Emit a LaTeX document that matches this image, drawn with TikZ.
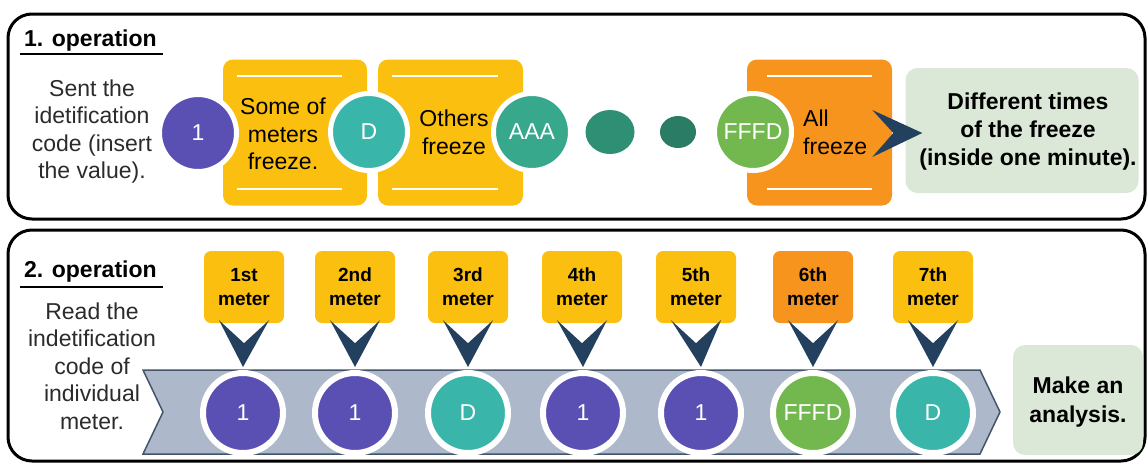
\documentclass[tikz,border=0pt]{standalone}
\usepackage{fontspec}
\setmainfont{Liberation Sans}
\usetikzlibrary{calc,shapes.geometric}
\definecolor{cpurple}{HTML}{5A50B4}
\definecolor{cteal}{HTML}{3AB5AA}
\definecolor{caaa}{HTML}{38A88C}
\definecolor{cdotA}{HTML}{2E8F74}
\definecolor{cdotB}{HTML}{2A7C64}
\definecolor{cgreen}{HTML}{72B84F}
\definecolor{cyellow}{HTML}{FBBF0F}
\definecolor{corange}{HTML}{F7941D}
\definecolor{cpale}{HTML}{DCE8D7}
\definecolor{cnavy}{HTML}{23405E}
\definecolor{cband}{HTML}{ADB9CA}
\definecolor{cbandline}{HTML}{44546A}
\definecolor{ctext}{HTML}{2B2B2B}
\begin{document}
\begin{tikzpicture}[x=1pt,y=-1pt,
  panel/.style={draw=black,line width=3pt,rounded corners=24pt},
  tilebox/.style={rounded corners=10pt,minimum height=146pt,inner sep=0pt},
  whiteline/.style={draw=white,line width=2pt},
  bubble/.style={circle,draw=white,line width=5pt,minimum size=77pt,inner sep=0pt,text=white,font=\fontsize{23}{27}\selectfont},
  mbubble/.style={circle,draw=white,line width=6pt,minimum size=80pt,inner sep=0pt,text=white,font=\fontsize{23}{27}\selectfont},
  dot/.style={ellipse,inner sep=0pt},
  plain/.style={text=ctext,align=center,inner sep=0pt,font=\fontsize{23}{27.6}\selectfont},
  boldtext/.style={text=black,align=center,inner sep=0pt,font=\bfseries\fontsize{23}{28}\selectfont},
  heading/.style={anchor=west,text=black,inner sep=0pt,font=\bfseries\fontsize{23}{27}\selectfont},
  meterbox/.style={rounded corners=7pt,minimum width=80pt,minimum height=72pt,inner sep=0pt,align=center,text=black,font=\bfseries\fontsize{19}{24}\selectfont},
  palebox/.style={fill=cpale,rounded corners=12pt,inner sep=0pt},
  chevron/.style={fill=cnavy}
]
\useasboundingbox (0,0) rectangle (1147,464);

% ---------------- Panel 1 ----------------
\draw[panel] (8,14) rectangle (1145,219);
\node[heading] (h1) at (24,41) {1. operation};
\draw[line width=1.5pt] (20,54) -- (163,54);
\node[plain] (t1) at (92,131.5) {Sent the\\idetification\\code (insert\\the value).};

\node[tilebox,fill=cyellow,minimum width=144pt] (b1) at (295,132.5) {};
\node[tilebox,fill=cyellow,minimum width=145pt] (b2) at (450.5,132.5) {};
\node[tilebox,fill=corange,minimum width=145pt] (b3) at (819.5,132.5) {};
\draw[whiteline] (237,76) -- (342,76);
\draw[whiteline] (237,189) -- (342,189);
\draw[whiteline] (392,76) -- (498,76);
\draw[whiteline] (392,189) -- (498,189);
\draw[whiteline] (767,76) -- (872,76);
\draw[whiteline] (767,189) -- (872,189);

\node[bubble,fill=cpurple] (c1) at (198,133) {1};
\node[bubble,fill=cteal] (c2) at (369,132) {D};
\node[bubble,fill=caaa] (c3) at (532,132) {AAA};
\node[dot,fill=cdotA,minimum width=49pt,minimum height=44pt] (c4) at (610,132) {};
\node[dot,fill=cdotB,minimum width=36pt,minimum height=32pt] (c5) at (678,132) {};
\node[bubble,fill=cgreen] (c6) at (753,132) {FFFD};

\node[plain,text=black] (l1) at (283,134) {Some of\\meters\\freeze.};
\node[plain,text=black] (l2) at (454,132.5) {Others\\freeze};
\node[plain,text=black,anchor=west,align=left] (l3) at (803,132.5) {All\\freeze};

\node[palebox,minimum width=233pt,minimum height=125pt] (g1) at (1022,130.5) {};
\node[boldtext] (g1t) at (1028,132) {Different times\\of the freeze\\(inside one minute).};

\coordinate (a1) at ($(g1.west)+(-12,2.5)$);
\fill[chevron] ($(a1)+(-21,-23)$) -- ($(a1)+(29,0)$) -- ($(a1)+(-21,24)$) -- (a1) -- cycle;

% ---------------- Panel 2 ----------------
\draw[panel] (8,230) rectangle (1145,461);
\node[heading] (h2) at (24,272) {2. operation};
\draw[line width=1.5pt] (20,287) -- (163,287);
\node[plain] (t2) at (92,366) {Read the\\indetification\\code of\\individual\\meter.};

\fill[cband] (143,370) -- (980,370) -- (1000,412) -- (980,454) -- (143,454) -- (163,412) -- cycle;
\draw[cbandline,line width=1.5pt,line join=miter] (143,370) -- (980,370) -- (1000,412) -- (980,454) -- (143,454) -- (163,412) -- cycle;

\node[mbubble,fill=cpurple] (n1) at (243,413) {1};
\node[mbubble,fill=cpurple] (n2) at (355,413) {1};
\node[mbubble,fill=cteal] (n3) at (468,413) {D};
\node[mbubble,fill=cpurple] (n4) at (583,413) {1};
\node[mbubble,fill=cpurple] (n5) at (701,413) {1};
\node[mbubble,fill=cgreen] (n6) at (813,413) {FFFD};
\node[mbubble,fill=cteal] (n7) at (933,413) {D};

\node[meterbox,fill=cyellow] (m1) at (244,287) {1st\\meter};
\node[meterbox,fill=cyellow] (m2) at (355,287) {2nd\\meter};
\node[meterbox,fill=cyellow] (m3) at (468,287) {3rd\\meter};
\node[meterbox,fill=cyellow] (m4) at (582,287) {4th\\meter};
\node[meterbox,fill=cyellow] (m5) at (696,287) {5th\\meter};
\node[meterbox,fill=corange] (m6) at (813,287) {6th\\meter};
\node[meterbox,fill=cyellow] (m7) at (933,287) {7th\\meter};

\foreach \m/\n in {m1/n1,m2/n2,m3/n3,m4/n4,m5/n5,m6/n6,m7/n7}{
  \fill[chevron] ($(\m.south)+(-25,-3)$) -- ($(\n.north)+(0,-3)$) -- ($(\m.south)+(25,-3)$) -- ($(\m.south)+(0,20)$) -- cycle;
}

\node[palebox,minimum width=130pt,minimum height=110pt] (g2) at (1078,400) {};
\node[boldtext,font=\bfseries\fontsize{23}{29}\selectfont] (g2t) at (1078,402) {Make an\\analysis.};
\end{tikzpicture}
\end{document}
